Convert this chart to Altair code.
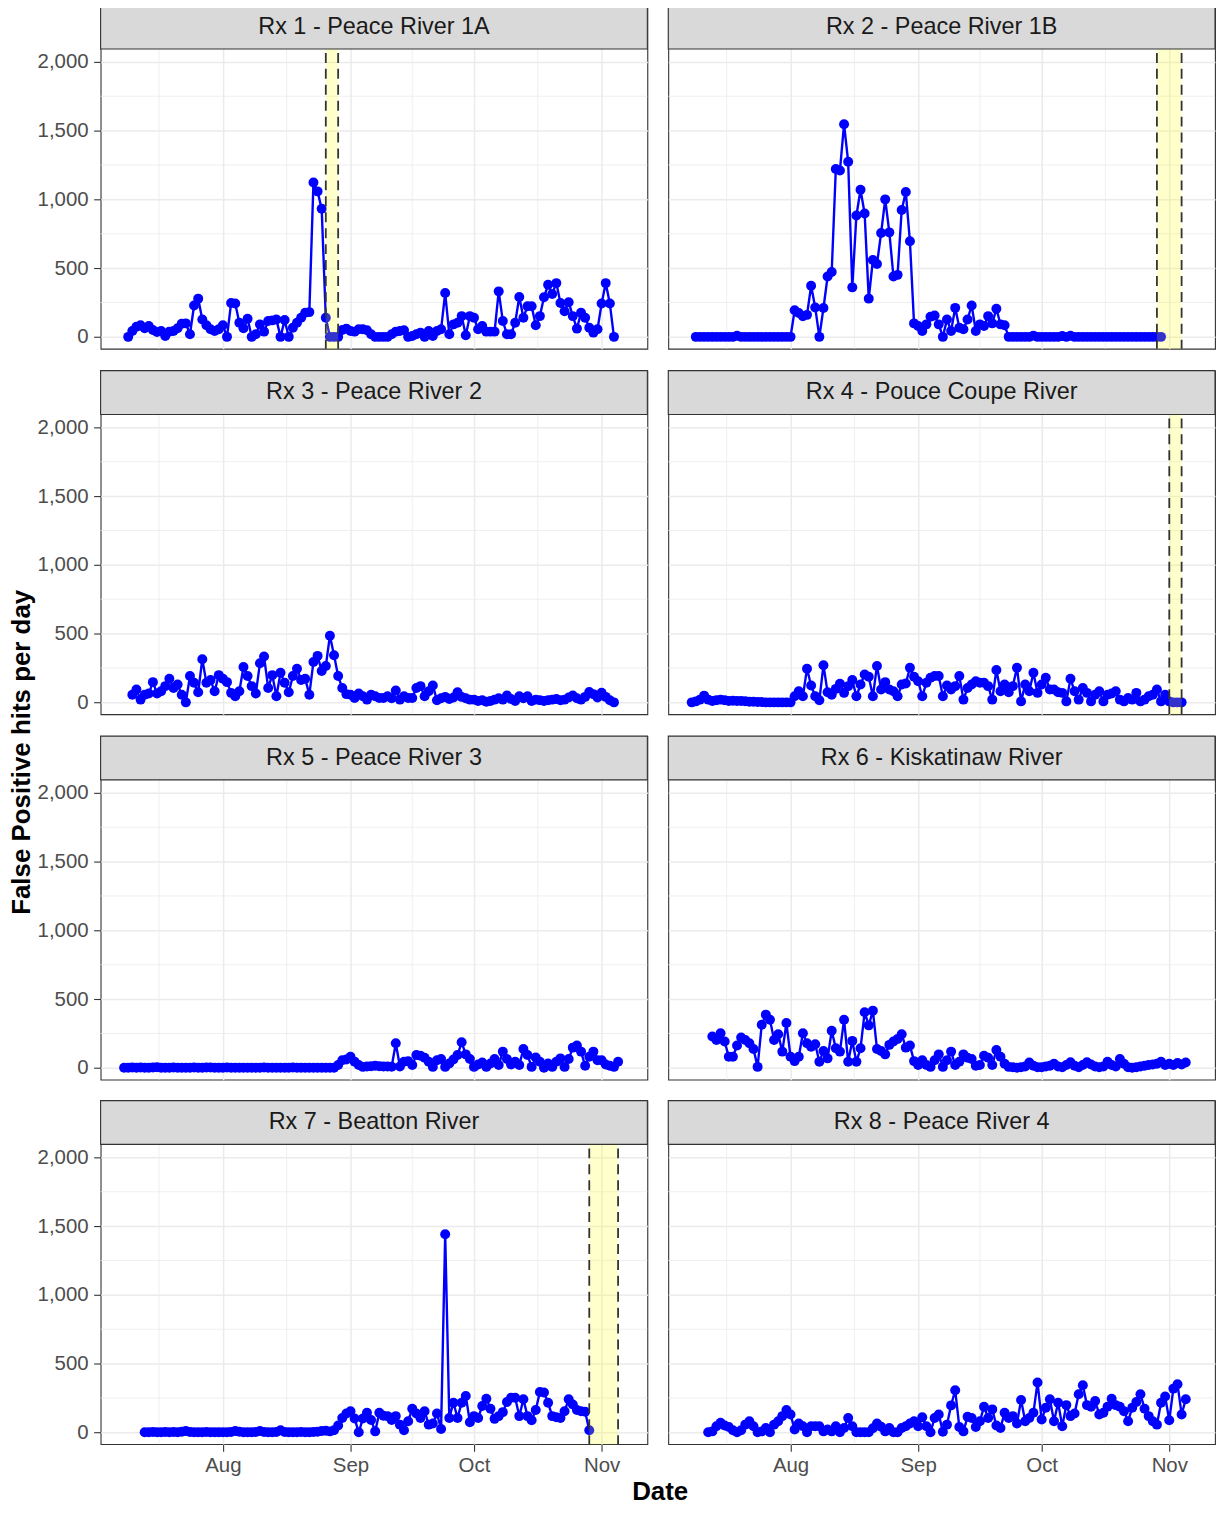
import altair as alt
import pandas as pd

FONT = "Liberation Sans"
BLUE = "#0000FF"
PANEL_W = 549
PANEL_H = 301   # plotting area under the strip
STRIP_H = 44

titles = [
    "Rx 1 - Peace River 1A",
    "Rx 2 - Peace River 1B",
    "Rx 3 - Peace River 2",
    "Rx 4 - Pouce Coupe River",
    "Rx 5 - Peace River 3",
    "Rx 6 - Kiskatinaw River",
    "Rx 7 - Beatton River",
    "Rx 8 - Peace River 4",
]

# first day of each receiver's daily series
first_days = ["2021-07-09", "2021-07-09", "2021-07-10", "2021-07-08",
              "2021-07-08", "2021-07-13", "2021-07-13", "2021-07-12"]

rx1 = [0, 43, 74, 84, 62, 79, 50, 36, 43, 7, 38, 43, 62, 96, 98, 19, 228, 278, 127, 84, 55, 43, 55, 84,
       0, 247, 242, 103, 62, 132, 0, 19, 91, 38, 115, 120, 127, 0, 122, 0, 67, 103, 139, 175, 180,
       1123, 1058, 931, 139, 0, 0, 0,
       50, 60, 43, 38, 55, 55, 48, 19, 0, 0, 0, 0, 19, 38, 43, 48, 0, 7, 19, 31, 0, 43, 7, 43, 55,
       319, 19, 91, 103, 151, 12, 151, 139, 55, 79, 38, 38, 38, 331, 115, 19, 19, 103, 290, 139,
       223, 223, 84, 151, 288, 379, 312, 391, 247, 187, 252, 151, 60, 175, 139, 67, 31, 55, 242,
       391, 242, 0]
rx2 = [0, 0, 0, 0, 0, 0, 0, 0, 0, 0, 8, 0, 0, 0, 0, 0, 0, 0, 0, 0, 0, 0, 0, 0,
       194, 173, 150, 160, 372, 213, 0, 210, 439, 472, 1221, 1210, 1547, 1273, 360, 883, 1070,
       897, 278, 559, 530, 755, 1000, 760, 439, 451, 923, 1053, 695, 98,
       79, 43, 91, 146, 156, 91, 0, 127, 43, 211, 67, 55, 127, 228, 43, 91, 79, 151, 98, 204, 91, 84,
       0, 0, 0, 0, 0, 0, 9, 0, 0, 0, 0, 0, 0, 6, 0, 8, 0, 0, 0, 0, 0, 0, 0, 0, 0, 0, 0, 0, 0, 0,
       0, 0, 0, 0, 0, 0, 0, 0]
rx3 = [56, 93, 20, 56, 64, 147, 64, 81, 118, 171, 105, 130, 56, 0, 191, 142, 73, 314, 142, 162,
       81, 198, 171,
       147, 69, 44, 81, 257, 191, 118, 64, 284, 333, 105, 198, 44, 215, 142, 73, 191, 245, 162,
       171, 56, 294, 338, 228, 265, 485, 343, 191, 105, 60,
       56, 32, 64, 44, 20, 56, 44, 32, 32, 44, 30, 86, 20, 44, 32, 32, 105, 118, 44, 81, 123, 15,
       30, 40, 25, 35, 73, 40, 30, 20,
       20, 10, 15, 5, 10, 20, 30, 20, 50, 25, 10, 45, 30, 45, 10, 20, 15, 10, 15, 20, 25, 15, 20,
       35, 50, 30, 20, 40, 75, 60, 35,
       70, 40, 15, 0]
rx4 = [0, 7, 20, 49, 20, 10, 15, 20, 15, 10, 12, 10, 10, 8, 5, 5, 3, 2, 0, 0, 0, 0, 0, 0, 0,
       44, 81, 44, 245, 123, 44, 15, 270, 73, 56, 98, 135, 69, 118, 162, 44, 130, 203, 186, 44,
       265, 93, 147, 93, 81, 44, 130, 137, 252, 186,
       154, 44, 142, 179, 191, 191, 44, 123, 93, 118, 191, 20, 105, 130, 154, 142, 142, 118, 20,
       235, 81, 130, 73, 118, 252, 7, 130, 81, 215, 69, 130, 179, 93, 93, 73, 69, 7, 171, 81, 20,
       105, 69, 7, 56, 81, 7, 56, 64, 81, 20, 7, 32, 20, 69, 7, 20, 44, 56, 93, 7, 56, 7, 0, 0, 0]
rx5 = [0, 0, 2, 0, 3, 0, 0, 2, 4, 0, 0, 0, 3, 0, 0, 0, 0, 2, 0, 0, 3, 2, 0, 0, 0, 2,
       0, 0, 0, 0, 0, 0, 0, 0, 2, 0, 0, 0, 0, 0, 0, 2, 0, 0, 0, 0, 0, 0, 0, 0, 0, 0,
       20, 56, 60,
       81, 44, 20, 7, 10, 12, 15, 12, 10, 10, 8, 179,
       10, 44, 49, 20, 93, 88, 73, 44, 7, 56, 64, 7, 32, 60, 93, 186, 98, 64,
       7, 25, 39, 7, 32, 64, 20, 118, 64, 25, 44, 20, 137, 93, 7, 76, 44, 0, 32, 7, 44, 69, 7,
       64, 147, 162, 118, 15, 81, 118, 56,
       56, 25, 15, 7, 44]
rx6 = [228, 203, 252, 191, 81, 81, 162, 220, 203, 179, 137, 7, 314, 387, 350, 203, 245, 118,
       326, 81, 49, 81, 252, 179, 154, 171, 44, 123, 69, 270, 142, 118, 350, 44, 196, 44, 142,
       404, 309, 416, 137, 123, 98, 167, 191, 210, 245, 147, 162, 49,
       20, 56, 20, 7, 56, 98, 7, 56, 118, 20, 44, 98, 73, 64, 15, 20, 88, 73, 20, 130, 81, 30, 7,
       5, 0, 5, 10, 39, 15, 5,
       5, 10, 15, 30, 10, 5, 20, 40, 15, 5, 20, 40, 25, 10, 5, 10, 45, 20, 10, 64, 30, 5, 0, 5,
       10, 15, 20, 25, 30, 45, 20,
       30, 20, 35, 25, 39]
rx7 = [0, 0, 2, 0, 0, 3, 0, 2, 0, 5, 10, 3, 0, 0, 0, 2, 0, 0, 0,
       0, 0, 2, 10, 4, 0, 0, 0, 2, 10, 3, 0, 0, 2, 15, 3, 0, 0, 0, 2, 0, 0, 3, 5,
       10, 12, 7, 15, 49, 105, 137,
       154, 100, 0, 100, 142, 90, 7, 142, 120, 118, 90, 118, 56, 15, 81, 171, 137, 105, 154, 56,
       64, 137, 25, 1440, 105, 215, 105, 215, 265, 73,
       118, 105, 191, 245, 171, 98, 118, 147, 220, 252, 252, 118, 240, 118, 88, 162, 294, 289,
       215, 118, 110, 105, 154, 240, 203, 162, 154, 150, 15]
rx8 = [0, 7, 44, 69, 49, 39, 15, 0, 15, 56, 81, 44, 0, 7, 32, 0, 56, 81, 118, 162,
       130, 20, 64, 44, 0, 44, 44, 44, 7, 20, 7, 44, 0, 32, 105, 44, 0, 0, 0, 0,
       30, 64, 40, 7, 32, 0, 0, 32, 44, 64, 81, 44, 110, 44, 0, 105, 130, 5, 56, 196,
       306, 39, 7, 113, 105, 39, 81, 186, 105, 167, 49, 32, 142, 105, 118, 64, 235, 81, 105, 142,
       363, 93, 179, 240, 81, 215, 44, 198, 118, 137, 277, 343, 198, 186, 228, 130, 142, 186, 245,
       198, 186, 154, 81, 179, 220, 277, 171, 118, 81, 56, 215, 260, 88, 318, 350, 130, 240]
series = [rx1, rx2, rx3, rx4, rx5, rx6, rx7, rx8]

# shaded windows (panel index, start, end)
band_panels = [0, 1, 3, 6]
band_start = ["2021-08-26", "2021-10-29", "2021-11-01", "2021-10-29"]
band_end = ["2021-08-29", "2021-11-04", "2021-11-04", "2021-11-05"]

month_ticks = ["2021-08-01", "2021-09-01", "2021-10-01", "2021-11-01"]
minor_x = ["2021-07-16T12:00:00Z", "2021-08-16T12:00:00Z",
           "2021-09-16T00:00:00Z", "2021-10-16T12:00:00Z"]
y_ticks = [0, 500, 1000, 1500, 2000]
minor_y = [250, 750, 1250, 1750]

x_lo, x_hi = "2021-07-02 07:10", "2021-11-12 02:40"
y_lo, y_hi = -86, 2094
# extend the y domain so the strip sits on top of the plotting area
y_top = y_hi + STRIP_H * (y_hi - y_lo) / PANEL_H


def utc(stamp):
    t = pd.Timestamp(stamp)
    return alt.DateTime(year=t.year, month=t.month, date=t.day,
                        hours=t.hour, minutes=t.minute, utc=True)


def panel(k, left, bottom):
    x_scale = alt.Scale(type="utc", domain=[utc(x_lo), utc(x_hi)])
    y_scale = alt.Scale(domain=[y_lo, y_top], nice=False, zero=False)
    common = dict(domain=False, gridColor="#EBEBEB", gridWidth=1.5, tickColor="#333333",
                  tickWidth=1.1, tickSize=7, labelFontSize=20.5, labelColor="#4D4D4D",
                  labelFont=FONT, title=None)
    x_axis = alt.Axis(values=[utc(m) for m in month_ticks], format="%b", labels=bottom,
                      ticks=bottom, labelPadding=4, labelFlush=False, labelOverlap=False, **common)
    y_axis = alt.Axis(values=y_ticks, format=",d", labels=left, ticks=left,
                      labelPadding=5.5, **common)

    def xenc(field):
        return alt.X(field, scale=x_scale, axis=x_axis)

    def yenc(field):
        return alt.Y(field, scale=y_scale, axis=y_axis)

    df = pd.DataFrame({
        "date": pd.date_range(first_days[k], periods=len(series[k]), freq="D").strftime("%Y-%m-%d"),
        "hits": series[k],
    })

    layers = [
        alt.Chart(pd.DataFrame({"hits": minor_y}))
        .mark_rule(color="#EBEBEB", strokeWidth=0.8)
        .encode(y=yenc("hits:Q")),
        alt.Chart(pd.DataFrame({"date": minor_x}))
        .mark_rule(color="#EBEBEB", strokeWidth=0.8)
        .encode(x=xenc("date:T")),
    ]
    base = alt.Chart(df).encode(x=xenc("date:T"), y=yenc("hits:Q"))
    layers += [
        base.mark_line(color=BLUE, strokeWidth=2.4),
        base.mark_point(filled=True, size=100, color=BLUE, opacity=1),
    ]

    if k in band_panels:
        j = band_panels.index(k)
        band = pd.DataFrame({"date": [band_start[j]], "end": [band_end[j]]})
        edges = pd.DataFrame({"date": [band_start[j], band_end[j]]})
        layers.append(
            alt.Chart(band).mark_rect(color="yellow", opacity=0.2)
            .encode(x=xenc("date:T"), x2="end:T")
        )
        layers.append(
            alt.Chart(edges).mark_rule(color="#333333", strokeWidth=1.8, strokeDash=[10, 6])
            .encode(x=xenc("date:T"))
        )

    head = alt.Chart(pd.DataFrame({"title": [titles[k]]}))
    layers.append(
        head.mark_rect(fill="#D9D9D9", stroke="#333333", strokeWidth=1.1)
        .encode(x=alt.value(0), x2=alt.value(PANEL_W), y=alt.value(0), y2=alt.value(STRIP_H))
    )
    layers.append(
        head.mark_text(font=FONT, fontSize=23.5, color="#1A1A1A")
        .encode(x=alt.value(PANEL_W / 2), y=alt.value(STRIP_H / 2), text="title:N")
    )
    return alt.layer(*layers).properties(width=PANEL_W, height=STRIP_H + PANEL_H)


rows = [
    alt.hconcat(panel(2 * r, True, r == 3), panel(2 * r + 1, False, r == 3), spacing=17)
    for r in range(4)
]
inner = alt.vconcat(*rows, spacing=18).properties(
    title=alt.TitleParams("Date", orient="bottom", anchor="middle", frame="bounds",
                          font=FONT, fontSize=26, fontWeight="bold", color="black",
                          offset=3, dx=34)
)
chart = (
    alt.hconcat(inner)
    .properties(
        title=alt.TitleParams("False Positive hits per day", orient="left", anchor="middle",
                              frame="bounds", font=FONT, fontSize=26, fontWeight="bold",
                              color="black", offset=2, dx=2),
        padding={"left": 0, "top": -8, "right": 0, "bottom": 0},
    )
    .configure(font=FONT)
    .configure_view(stroke="#333333", strokeWidth=1.1)
)

chart.save("out.html", embed_options={"renderer": "svg", "actions": False})
